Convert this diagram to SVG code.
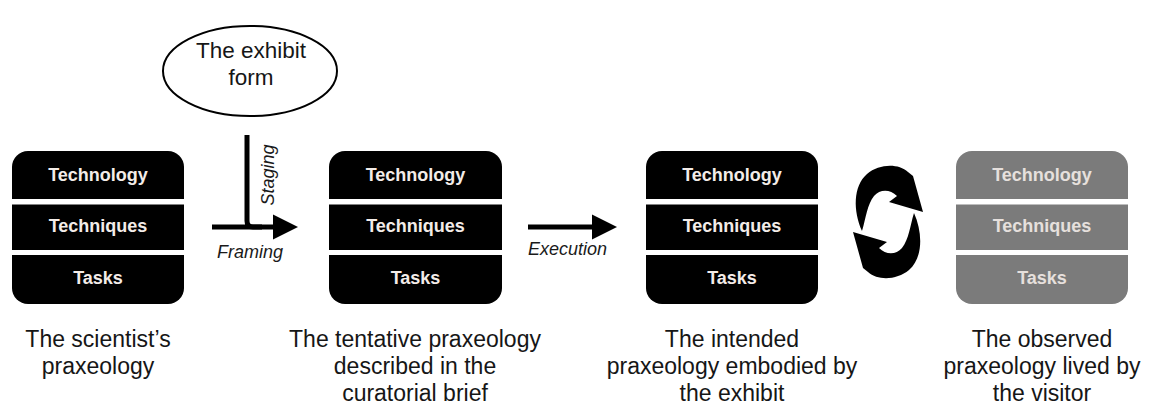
<svg xmlns="http://www.w3.org/2000/svg" width="1149" height="408" viewBox="0 0 1149 408">
  <style>
    .box { fill: #000000; }
    .box.grey { fill: #7b7b7b; }
    .sep { fill: #ffffff; }
    .lbl { font-family: "Liberation Sans", Arial, sans-serif; font-weight: bold; font-size: 18px; fill: #f3ece8; text-anchor: middle; }
    .grey-lbl { fill: #e6e0dd; }
    .cap { font-family: "Liberation Sans", Arial, sans-serif; font-size: 23px; fill: #161616; text-anchor: middle; }
    .oval { font-family: "Liberation Sans", Arial, sans-serif; font-size: 22.5px; fill: #161616; text-anchor: middle; }
    .edge-lbl { font-family: "Liberation Sans", Arial, sans-serif; font-style: italic; font-size: 18px; fill: #1a1a1a; }
    .line { fill: none; stroke: #000000; stroke-width: 5; }
  </style>
  <defs>
    <marker id="head" markerUnits="userSpaceOnUse" markerWidth="26" markerHeight="26" viewBox="0 0 26 26" refX="0" refY="13" orient="auto">
      <path d="M0 0.5 L25 13 L0 25.5 Z" fill="#000"/>
    </marker>
    <!-- one curved arrow of the cycle symbol; the second is the same shape turned half a turn -->
    <path id="cycle-arrow" d="M862 231 C853 211 853 186 867 174 C879 164 898 163 908 172 L913 176 L923 212 L889 202 L897 196 C890 189 880 189 874 196 C867 205 866 218 862 231 Z" fill="#000"/>
  </defs>

  <!-- scientist's praxeology -->
  <g id="node-scientist">
    <rect class="box" x="12" y="151" width="172" height="153" rx="16"/>
    <rect class="sep" x="12" y="199" width="172" height="5.5"/>
    <rect class="sep" x="12" y="250" width="172" height="5"/>
    <text class="lbl" x="98" y="181">Technology</text>
    <text class="lbl" x="98" y="232">Techniques</text>
    <text class="lbl" x="98" y="284">Tasks</text>
    <text class="cap" x="98" y="347">The scientist’s</text>
    <text class="cap" x="98" y="374">praxeology</text>
  </g>

  <!-- exhibit form -->
  <g id="node-exhibit-form">
    <ellipse cx="250" cy="71" rx="87" ry="45" fill="#fff" stroke="#000" stroke-width="2"/>
    <text class="oval" x="251" y="58">The exhibit</text>
    <text class="oval" x="251" y="85">form</text>
  </g>

  <!-- tentative praxeology -->
  <g id="node-tentative">
    <rect class="box" x="329" y="151" width="173" height="153" rx="16"/>
    <rect class="sep" x="329" y="199" width="173" height="5.5"/>
    <rect class="sep" x="329" y="250" width="173" height="5"/>
    <text class="lbl" x="415.5" y="181">Technology</text>
    <text class="lbl" x="415.5" y="232">Techniques</text>
    <text class="lbl" x="415.5" y="284">Tasks</text>
    <text class="cap" x="415" y="347">The tentative praxeology</text>
    <text class="cap" x="415" y="374">described in the</text>
    <text class="cap" x="415" y="401">curatorial brief</text>
  </g>

  <!-- intended praxeology -->
  <g id="node-intended">
    <rect class="box" x="646" y="151" width="172" height="153" rx="16"/>
    <rect class="sep" x="646" y="199" width="172" height="5.5"/>
    <rect class="sep" x="646" y="250" width="172" height="5"/>
    <text class="lbl" x="732" y="181">Technology</text>
    <text class="lbl" x="732" y="232">Techniques</text>
    <text class="lbl" x="732" y="284">Tasks</text>
    <text class="cap" x="732" y="347">The intended</text>
    <text class="cap" x="732" y="374">praxeology embodied by</text>
    <text class="cap" x="732" y="401">the exhibit</text>
  </g>

  <!-- observed praxeology -->
  <g id="node-observed">
    <rect class="box grey" x="956" y="151" width="172" height="153" rx="16"/>
    <rect class="sep" x="956" y="199" width="172" height="5.5"/>
    <rect class="sep" x="956" y="250" width="172" height="5"/>
    <text class="lbl grey-lbl" x="1042" y="181">Technology</text>
    <text class="lbl grey-lbl" x="1042" y="232">Techniques</text>
    <text class="lbl grey-lbl" x="1042" y="284">Tasks</text>
    <text class="cap" x="1042" y="347">The observed</text>
    <text class="cap" x="1042" y="374">praxeology lived by</text>
    <text class="cap" x="1042" y="401">the visitor</text>
  </g>

  <!-- connectors -->
  <g id="connectors">
    <line class="line" x1="212" y1="227" x2="273" y2="227" marker-end="url(#head)"/>
    <path class="line" stroke-width="4" d="M247 135 V221 Q247 227 253 227 H262"/>
    <text class="edge-lbl" x="217" y="258">Framing</text>
    <text class="edge-lbl" transform="translate(274,175) rotate(-90)" text-anchor="middle">Staging</text>

    <line class="line" x1="528" y1="227" x2="592" y2="227" marker-end="url(#head)"/>
    <text class="edge-lbl" x="528" y="255">Execution</text>

    <g id="cycle">
      <use href="#cycle-arrow"/>
      <use href="#cycle-arrow" transform="rotate(180 888 222)"/>
    </g>
  </g>
</svg>
